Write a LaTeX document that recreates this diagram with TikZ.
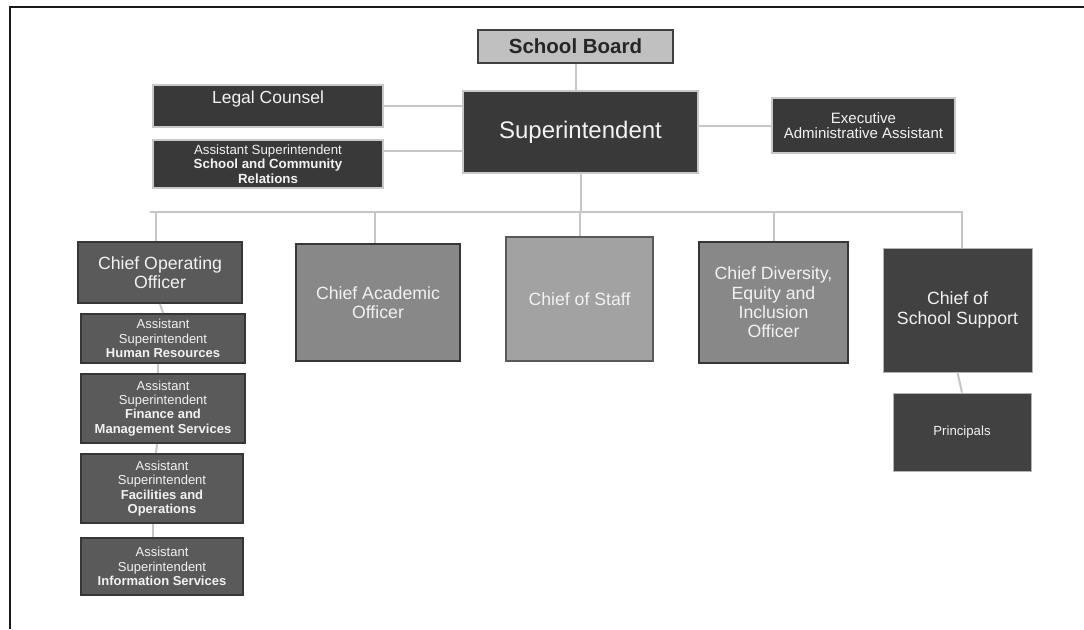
\documentclass[tikz,border=0pt]{standalone}
\usepackage{fontspec}
\setmainfont{Liberation Sans}

\definecolor{boxdark}{HTML}{393939}
\definecolor{boxmid}{HTML}{5A5A5A}
\definecolor{boxgray}{HTML}{888888}
\definecolor{boxlight}{HTML}{A2A2A2}
\definecolor{boxboard}{HTML}{C0C0C0}
\definecolor{boxsupport}{HTML}{414141}
\definecolor{edgelight}{HTML}{C8C8C8}
\definecolor{edgedark}{HTML}{363636}
\definecolor{linkgray}{HTML}{C6C6C6}
\definecolor{textlight}{HTML}{F2F2F2}

\newcommand{\fs}[2]{\fontsize{#1}{#2}\selectfont}

\begin{document}
\begin{tikzpicture}[x=1pt, y=-1pt,
    % Define the styles for the boxes
    base/.style={rectangle, inner sep=0pt, align=center, line width=2pt, text=textlight},
    darkbox/.style={base, fill=boxdark, draw=edgelight},
    midbox/.style={base, fill=boxmid, draw=edgedark},
    graybox/.style={base, fill=boxgray, draw=edgedark},
    staffbox/.style={base, fill=boxlight, draw=black!65},
    supportbox/.style={base, fill=boxsupport, draw=black!30, line width=0.8pt},
    boardbox/.style={base, fill=boxboard, draw=black!75, line width=1.2pt, text=black!85},
    % Define the style for the connectors
    link/.style={draw=linkgray, line width=2pt}
]
\useasboundingbox (0,0) rectangle (1084,629);

% Frame on the top and left side
\draw[line width=2pt, black!90] (1084,7) -- (9.5,7) -- (9.5,629);

% Top of the chart
\node[boardbox, minimum width=195pt, minimum height=33pt, font=\fs{20.5}{24}\bfseries]
    (board) at (575.5,46.5) {School Board};
\node[darkbox, minimum width=235pt, minimum height=82pt, font=\fs{24}{28}]
    (super) at (580.5,132) {Superintendent};
\node[darkbox, minimum width=230pt, text height=18pt, text depth=24pt, font=\fs{17.5}{21}]
    (legal) at (268,106) {Legal Counsel};
\node[darkbox, minimum width=230pt, minimum height=48pt, font=\fs{13.3}{14.5}]
    (acr) at (268,164) {Assistant Superintendent\\\textbf{School and Community}\\\textbf{Relations}};
\node[darkbox, minimum width=183pt, minimum height=55pt, font=\fs{15}{15.5}]
    (exec) at (863.5,125.5) {Executive\\Administrative Assistant};

% The chiefs
\node[midbox, minimum width=164pt, minimum height=61pt, font=\fs{17.7}{19.3}]
    (coo) at (160,272.5) {Chief Operating\\Officer};
\node[graybox, minimum width=164pt, minimum height=117pt, font=\fs{17.7}{19.3}]
    (cao) at (378,302.5) {Chief Academic\\Officer};
\node[staffbox, minimum width=147pt, minimum height=124pt, font=\fs{17.7}{19.3}]
    (staff) at (579.5,299) {Chief of Staff};
\node[graybox, minimum width=149pt, minimum height=121pt, font=\fs{17.7}{19.3}]
    (div) at (773.5,302.5) {Chief Diversity,\\Equity and\\Inclusion\\Officer};
\node[supportbox, minimum width=149pt, minimum height=124pt, font=\fs{17.7}{19.3}]
    (css) at (957.5,310) {Chief of\\School Support};

% The assistant superintendents under the operating officer
\node[midbox, minimum width=164pt, minimum height=49pt, font=\fs{13}{14.3}]
    (hr) at (163,338.5) {Assistant\\Superintendent\\\textbf{Human Resources}};
\node[midbox, minimum width=164pt, minimum height=69pt, font=\fs{13}{14.3}]
    (fin) at (163,408.5) {Assistant\\Superintendent\\\textbf{Finance and}\\\textbf{Management Services}};
\node[midbox, minimum width=162pt, minimum height=69pt, font=\fs{13}{14.3}]
    (fac) at (162,488.5) {Assistant\\Superintendent\\\textbf{Facilities and}\\\textbf{Operations}};
\node[midbox, minimum width=162pt, minimum height=57pt, font=\fs{13}{14.3}]
    (info) at (162,566.5) {Assistant\\Superintendent\\\textbf{Information Services}};

% Principals
\node[supportbox, minimum width=138pt, minimum height=78pt, font=\fs{13.2}{15}]
    (prin) at (962,432) {Principals};

% Define the ends of the bus line
\coordinate (busL) at (150,212);
\coordinate (busR) at (963,212);

% Draw the lines
\draw[link] (board) -- (board |- super.north);
\draw[link] (legal.east) -- (legal.east -| super.west);
\draw[link] ([yshift=13pt]acr.east) -- ([yshift=13pt]acr.east -| super.west);
\draw[link] (exec.west) -- (exec.west -| super.east);
\draw[link] (super.south) -- (super.south |- busL);
\draw[link] (busL) -- (busR);
\draw[link] ([xshift=-4pt]coo.north |- busL) -- ([xshift=-4pt]coo.north);
\draw[link] ([xshift=-3pt]cao.north |- busL) -- ([xshift=-3pt]cao.north);
\draw[link] (staff.north |- busL) -- (staff.north);
\draw[link] (div.north |- busL) -- (div.north);
\draw[link] ([xshift=4.5pt]css.north |- busL) -- ([xshift=4.5pt]css.north);
\draw[link] (coo.south) -- (hr.north);
\draw[link] ([xshift=-5pt]hr.south) -- ([xshift=-5pt]fin.north);
\draw[link] ([xshift=-6pt]fin.south) -- ([xshift=-6pt]fac.north);
\draw[link] ([xshift=-9pt]fac.south) -- ([xshift=-9pt]info.north);
\draw[link] (css.south) -- (prin.north);

\end{tikzpicture}
\end{document}
